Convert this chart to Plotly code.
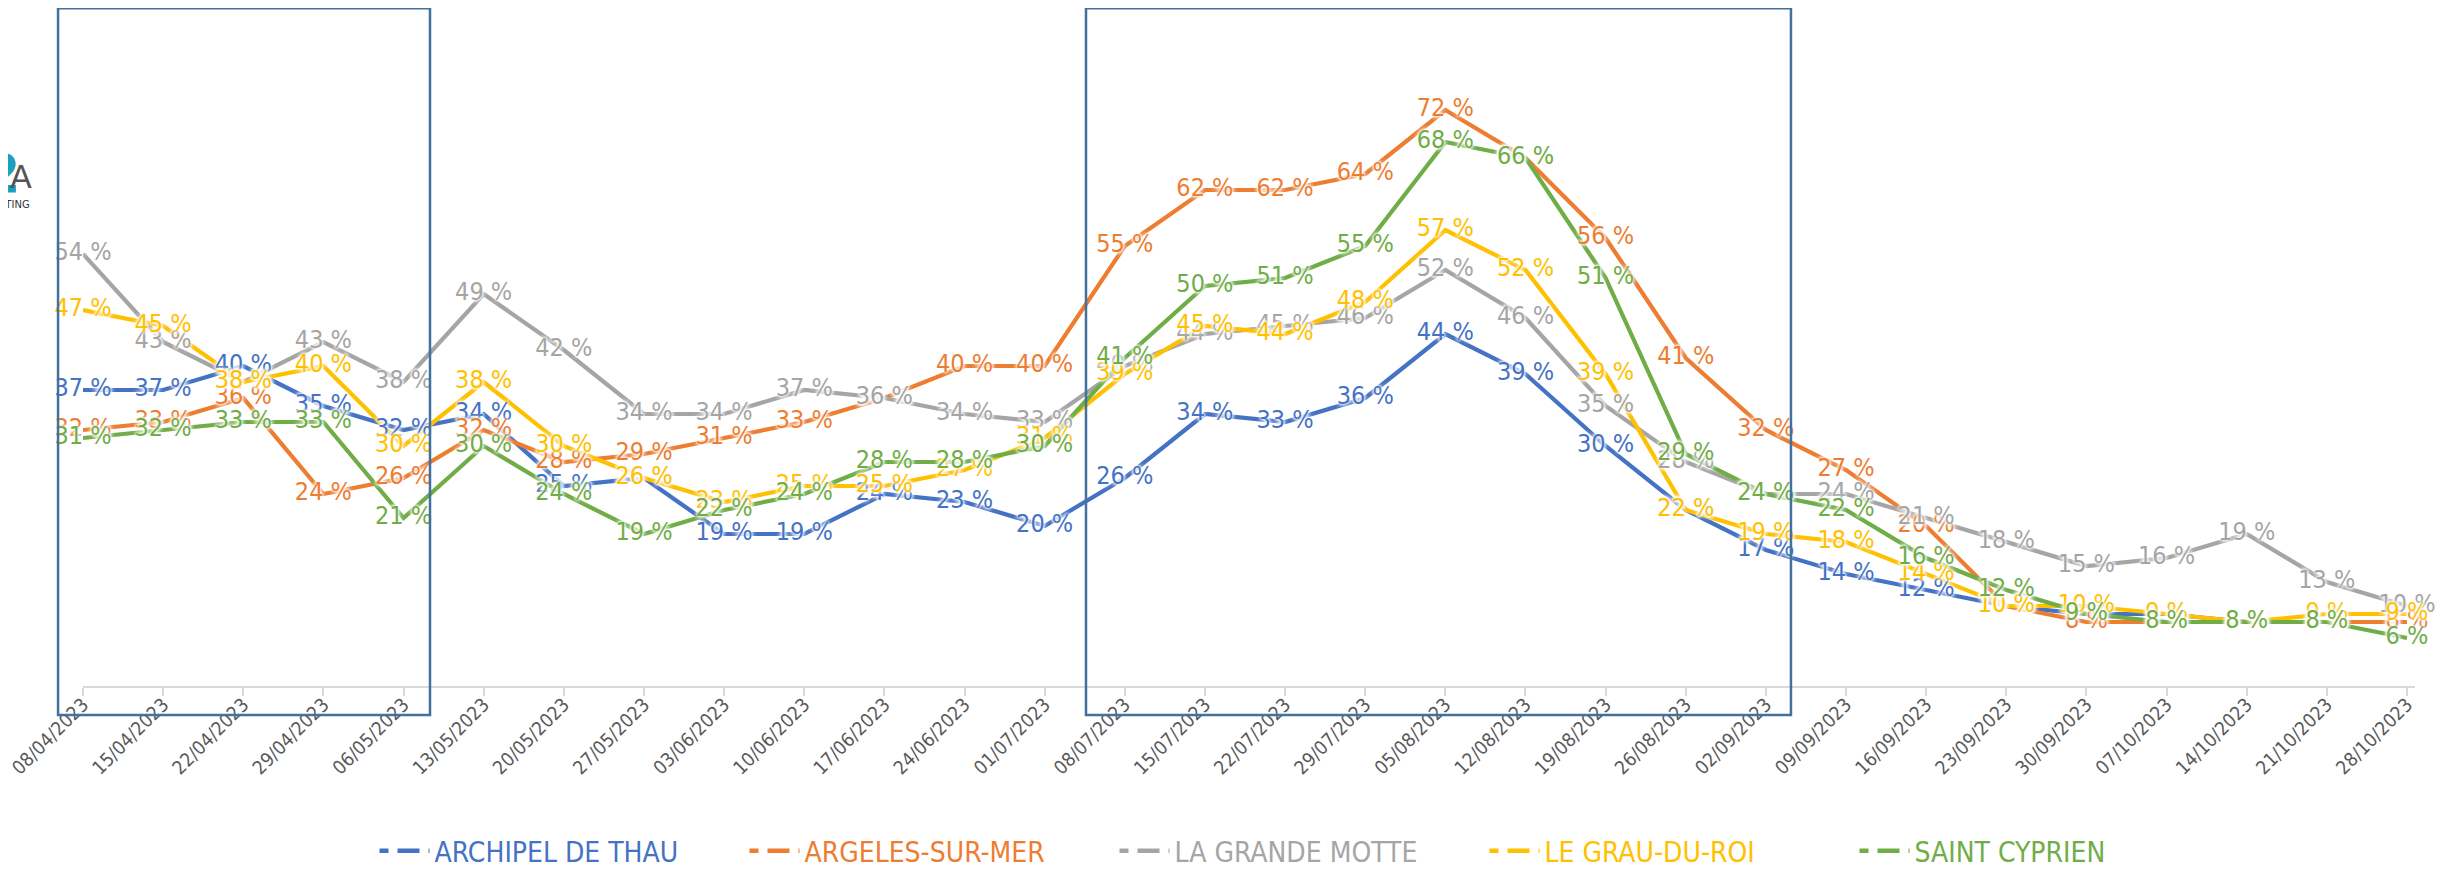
import plotly.graph_objects as go

dates = ["08/04/2023", "15/04/2023", "22/04/2023", "29/04/2023", "06/05/2023", "13/05/2023",
         "20/05/2023", "27/05/2023", "03/06/2023", "10/06/2023", "17/06/2023", "24/06/2023",
         "01/07/2023", "08/07/2023", "15/07/2023", "22/07/2023", "29/07/2023", "05/08/2023",
         "12/08/2023", "19/08/2023", "26/08/2023", "02/09/2023", "09/09/2023", "16/09/2023",
         "23/09/2023", "30/09/2023", "07/10/2023", "14/10/2023", "21/10/2023", "28/10/2023"]

archipel_de_thau = [37, 37, 40, 35, 32, 34, 25, 26, 19, 19, 24, 23, 20, 26, 34, 33, 36, 44, 39, 30,
                    22, 17, 14, 12, 10, 9, 9, 8, 8, 8]
argeles_sur_mer = [32, 33, 36, 24, 26, 32, 28, 29, 31, 33, 36, 40, 40, 55, 62, 62, 64, 72, 66, 56,
                   41, 32, 27, 20, 10, 8, 8, 8, 8, 8]
la_grande_motte = [54, 43, 38, 43, 38, 49, 42, 34, 34, 37, 36, 34, 33, 40, 44, 45, 46, 52, 46, 35,
                   28, 24, 24, 21, 18, 15, 16, 19, 13, 10]
le_grau_du_roi = [47, 45, 38, 40, 30, 38, 30, 26, 23, 25, 25, 27, 31, 39, 45, 44, 48, 57, 52, 39,
                  22, 19, 18, 14, 10, 10, 9, 8, 9, 9]
saint_cyprien = [31, 32, 33, 33, 21, 30, 24, 19, 22, 24, 28, 28, 30, 41, 50, 51, 55, 68, 66, 51,
                 29, 24, 22, 16, 12, 9, 8, 8, 8, 6]

series_names = ["ARCHIPEL DE THAU", "ARGELES-SUR-MER", "LA GRANDE MOTTE", "LE GRAU-DU-ROI", "SAINT CYPRIEN"]
series_values = [archipel_de_thau, argeles_sur_mer, la_grande_motte, le_grau_du_roi, saint_cyprien]
series_colors = ["#4472C4", "#ED7D31", "#A5A5A5", "#FFC000", "#70AD47"]

FONT = "Liberation Sans Narrow, DejaVu Sans Condensed, Arial Narrow, sans-serif"

fig = go.Figure()

# lines
for name, vals, col in zip(series_names, series_values, series_colors):
    fig.add_trace(go.Scatter(
        x=dates, y=vals, mode="lines", line=dict(color=col, width=4.2),
        showlegend=False, hoverinfo="skip", cliponaxis=False))

# data labels on top of all lines
halo = "0 0 3px white, 0 0 3px white, 0 0 5px white, 0 0 5px white"
for name, vals, col in zip(series_names, series_values, series_colors):
    fig.add_trace(go.Scatter(
        x=dates, y=vals, mode="text", text=[f"{v} %" for v in vals],
        textposition="middle center",
        textfont=dict(family=FONT, size=25, color=col, shadow=halo),
        showlegend=False, hoverinfo="skip", cliponaxis=False))

# legend entries
for name, col in zip(series_names, series_colors):
    fig.add_trace(go.Scatter(
        x=[None], y=[None], mode="lines",
        line=dict(color=col, width=4.5, dash="9px,9px,22px"),
        name=f'<span style="color:{col}">{name}</span>'))

# highlight boxes (paper coordinates)
box_style = dict(color="#41719C", width=2.5)
fig.add_shape(type="rect", xref="paper", yref="paper", x0=-0.0107, x1=0.1488, y0=-0.0453, y1=1.059,
              line=box_style, fillcolor="rgba(0,0,0,0)", layer="above")
fig.add_shape(type="rect", xref="paper", yref="paper", x0=0.4301, x1=0.7324, y0=-0.0453, y1=1.059,
              line=box_style, fillcolor="rgba(0,0,0,0)", layer="above")

# partial logo at left edge
fig.add_annotation(xref="paper", yref="paper", x=-0.0258, y=0.80, xanchor="right", yanchor="middle",
                   text="<b>2</b>", showarrow=False,
                   font=dict(family="DejaVu Sans", size=54, color="#1BA0C0"))
fig.add_annotation(xref="paper", yref="paper", x=-0.0212, y=0.795, xanchor="right", yanchor="middle",
                   text="A", showarrow=False,
                   font=dict(family="DejaVu Sans", size=32, color="#555555"))
fig.add_annotation(xref="paper", yref="paper", x=-0.0220, y=0.752, xanchor="right", yanchor="middle",
                   text="NSULTING", showarrow=False,
                   font=dict(family="DejaVu Sans", size=10, color="#333333"))

# the page body adds an 8 px margin: figure is sized so that it fills the 2463x869 window
fig.update_layout(
    width=2455, height=861,
    margin=dict(l=75, r=48, t=38, b=183, autoexpand=False),
    paper_bgcolor="white", plot_bgcolor="white",
    font=dict(family=FONT),
    showlegend=True,
    legend=dict(orientation="h", xref="paper", yref="paper", x=0.125, y=-0.258,
                xanchor="left", yanchor="middle",
                font=dict(family=FONT, size=28, color="#595959"),
                itemwidth=50, entrywidth=305, bgcolor="rgba(0,0,0,0)"),
    xaxis=dict(type="category", range=[0, 29.1], showgrid=False, zeroline=False,
               showline=True, linecolor="#D9D9D9", linewidth=2, automargin=False,
               ticks="outside", ticklen=8, tickcolor="#D9D9D9", tickwidth=2,
               ticklabelstandoff=-10,
               tickangle=-45, tickfont=dict(family=FONT, size=19, color="#595959")),
    yaxis=dict(range=[0, 80], visible=False, showgrid=False, zeroline=False, automargin=False),
)

fig.write_html("out.html")
